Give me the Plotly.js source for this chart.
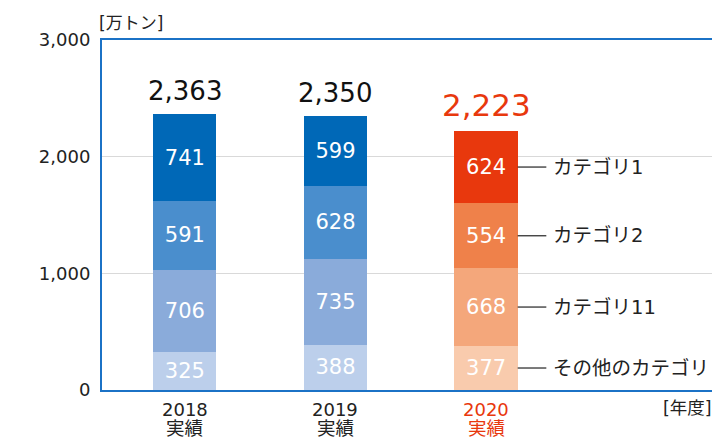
<!DOCTYPE html>
<html><head><meta charset="utf-8">
<script src="https://cdn.plot.ly/plotly-3.0.1.min.js"></script>
<style>html,body{margin:0;padding:0;background:#fff}#chart{width:727px;height:440px}</style>
</head><body><div id="chart"></div>
<script>
const years = ['2018', '2019', '2020'];
const yearSub = '実績';
const seriesNames = ['その他のカテゴリ', 'カテゴリ11', 'カテゴリ2', 'カテゴリ1'];
const other = [325, 388, 377];
const cat11 = [706, 735, 668];
const cat2 = [591, 628, 554];
const cat1 = [741, 599, 624];
const totals = [2363, 2350, 2223];
const totalLabels = ['2,363', '2,350', '2,223'];

const blues = ['#bccfeb', '#8aabda', '#4a8ecd', '#0068b7'];
const oranges = ['#f9cbad', '#f4a77b', '#ef814a', '#e8380d'];
const highlight = 2;
const FONT = '"DejaVu Sans", "Noto Sans CJK JP", sans-serif';

const seriesVals = [other, cat11, cat2, cat1];
const xs = years.map((_, i) => i);
const traces = seriesVals.map((vals, s) => ({
  type: 'bar', x: xs, y: vals, name: seriesNames[s],
  width: 0.42,
  marker: {color: xs.map(i => i === highlight ? oranges[s] : blues[s]), line: {width: 0}},
  text: vals.map(v => String(v)), textposition: 'inside', insidetextanchor: 'middle',
  textangle: 0, textfont: {color: '#ffffff', size: 21, family: FONT},
  hoverinfo: 'none', cliponaxis: false
}));

const annotations = [];
totals.forEach((t, i) => {
  annotations.push({
    x: i, y: t, xref: 'x', yref: 'y', text: totalLabels[i], showarrow: false,
    yanchor: 'bottom', yshift: 6,
    font: {family: FONT, size: i === highlight ? 31 : 26, color: i === highlight ? '#e8380d' : '#111111'}
  });
});
years.forEach((y, i) => {
  const c = i === highlight ? '#e8380d' : '#222';
  annotations.push({x: i, y: 0, xref: 'x', yref: 'paper', text: y, showarrow: false,
    yanchor: 'middle', yshift: -18.5, height: 20, borderpad: 0, font: {family: FONT, size: 18, color: c}});
  annotations.push({x: i, y: 0, xref: 'x', yref: 'paper', text: yearSub, showarrow: false,
    yanchor: 'middle', yshift: -37.5, height: 20, borderpad: 0, font: {family: FONT, size: 18.5, color: c}});
});
const shapes = [];
let base = 0;
seriesVals.forEach((vals, s) => {
  const mid = base + vals[highlight] / 2;
  base += vals[highlight];
  shapes.push({type: 'line', xref: 'x', yref: 'y', x0: highlight + 0.21, x1: highlight + 0.40,
    y0: mid, y1: mid, line: {color: '#222', width: 1.2}});
  annotations.push({x: highlight + 0.43, y: mid, xref: 'x', yref: 'y', text: seriesNames[s],
    showarrow: false, xanchor: 'left', yanchor: 'middle',
    font: {family: FONT, size: 19.5, color: '#222'}});
});
annotations.push({x: 0, y: 1, xref: 'paper', yref: 'paper', text: '[万トン]', showarrow: false,
  xanchor: 'left', yanchor: 'bottom', xshift: -5, yshift: 5, font: {family: FONT, size: 17, color: '#222'}});
annotations.push({x: 1, y: 0, xref: 'paper', yref: 'paper', text: '[年度]', showarrow: false,
  xanchor: 'right', yanchor: 'top', xshift: 2, yshift: -6, font: {family: FONT, size: 17.5, color: '#222'}});

const layout = {
  width: 727, height: 440,
  margin: {l: 102, r: 15, t: 40, b: 50},
  paper_bgcolor: '#fff', plot_bgcolor: '#fff',
  barmode: 'stack', showlegend: false,
  font: {family: FONT, color: '#222'},
  xaxis: {range: [-0.55, 3.5], showticklabels: false, showgrid: false, zeroline: false,
    showline: true, mirror: true, linecolor: '#1b72c6', linewidth: 2, ticks: '', fixedrange: true},
  yaxis: {range: [0, 3000], tickvals: [0, 1000, 2000, 3000], ticktext: ['0', '1,000', '2,000', '3,000'],
    showgrid: true, gridcolor: '#d9d9d9', gridwidth: 1.5, zeroline: false,
    showline: true, linecolor: '#1b72c6', linewidth: 2, ticks: 'outside', ticklen: 6,
    tickcolor: 'rgba(0,0,0,0)', tickfont: {size: 18, color: '#222', family: FONT}, fixedrange: true},
  shapes: shapes, annotations: annotations
};
Plotly.newPlot('chart', traces, layout, {displayModeBar: false, staticPlot: true});
</script></body></html>
